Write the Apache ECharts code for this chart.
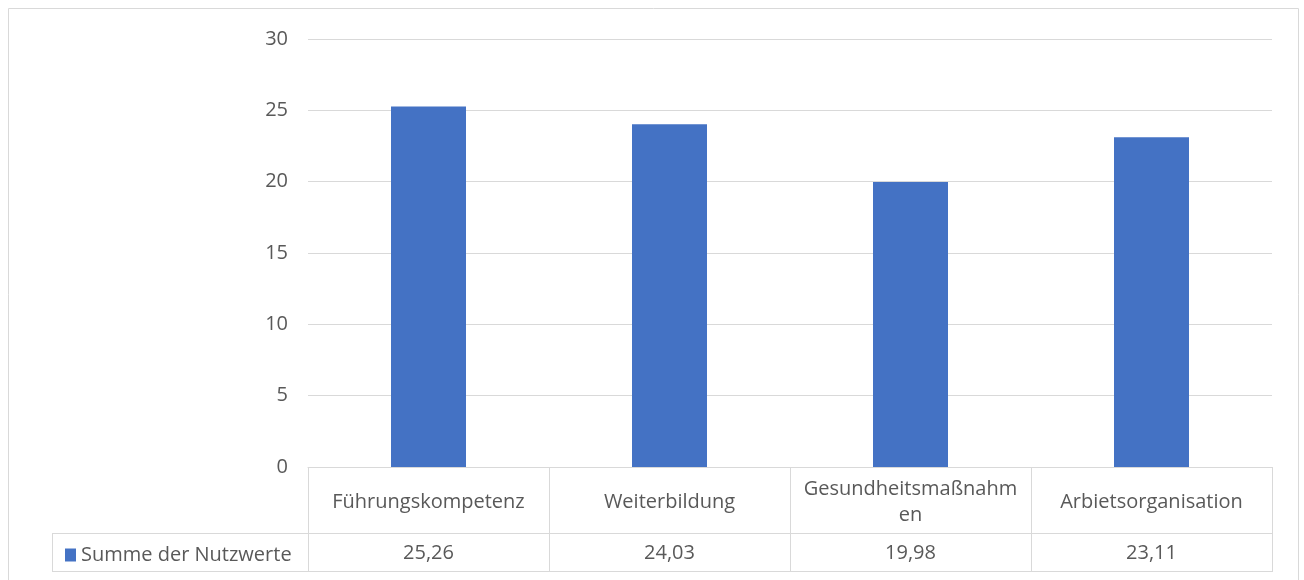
<!DOCTYPE html>
<html>
<head>
<meta charset="utf-8">
<script src="https://cdn.jsdelivr.net/npm/echarts@6/dist/echarts.min.js"></script>
<style>
  html, body { margin: 0; padding: 0; background: #fff; }
  #chart { width: 1304px; height: 580px; }
</style>
</head>
<body>
<div id="chart"></div>
<script>
// Daten
const categories = ['Führungskompetenz', 'Weiterbildung', 'Gesundheitsmaßnahmen', 'Arbietsorganisation'];
const values = [25.26, 24.03, 19.98, 23.11];
const seriesName = 'Summe der Nutzwerte';
const yTicks = [0, 5, 10, 15, 20, 25, 30];

const textColor = '#595959';
const lineColor = '#d9d9d9';
const font = 'Open Sans';
const fontSize = 20;

const chart = echarts.init(document.getElementById('chart'), null, { renderer: 'canvas' });

// Excel bricht den langen Namen um (passt nicht in die Zelle)
function wrapLabel(s) {
    return s.length > 19 ? s.slice(0, 18) + '\n' + s.slice(18) : s;
}

const option = {
    animation: false,
    textStyle: { fontFamily: font },
    grid: { left: 308, right: 32, top: 39, bottom: 113 },
    legend: {
        data: [seriesName],
        left: 60,
        top: 540,
        icon: 'rect',
        itemWidth: 11,
        itemHeight: 13,
        itemGap: 6,
        textStyle: { color: textColor, fontSize: fontSize, fontFamily: font }
    },
    xAxis: [
        {
            type: 'category',
            data: categories,
            axisLine: { lineStyle: { color: lineColor } },
            axisTick: { show: true, length: 105, interval: 0, lineStyle: { color: lineColor } },
            axisLabel: {
                interval: 0,
                margin: 35,
                verticalAlign: 'middle',
                color: textColor,
                fontSize: fontSize,
                lineHeight: 26,
                formatter: wrapLabel
            }
        },
        {
            type: 'category',
            position: 'bottom',
            data: categories,
            axisLine: { show: false },
            axisTick: { show: false },
            axisLabel: {
                interval: 0,
                margin: 86,
                verticalAlign: 'middle',
                color: textColor,
                fontSize: fontSize,
                formatter: (v, i) => values[i].toFixed(2).replace('.', ',')
            }
        }
    ],
    yAxis: {
        type: 'value',
        min: yTicks[0],
        max: yTicks[yTicks.length - 1],
        interval: 5,
        axisLine: { show: false },
        axisTick: { show: false },
        axisLabel: { margin: 20, color: textColor, fontSize: fontSize },
        splitLine: { lineStyle: { color: lineColor } }
    },
    series: [
        {
            name: seriesName,
            type: 'bar',
            data: values,
            barWidth: 75,
            itemStyle: { color: '#4472c4' }
        }
    ],
    graphic: [
        // Rahmen des Diagramms
        { type: 'rect', shape: { x: 8.5, y: 8.5, width: 1290, height: 600 }, style: { fill: null, stroke: lineColor, lineWidth: 1 } },
        // Datentabelle: Zeilenlinien und linke Zelle
        { type: 'line', shape: { x1: 52, y1: 533.5, x2: 1272, y2: 533.5 }, style: { stroke: lineColor, lineWidth: 1 } },
        { type: 'line', shape: { x1: 52, y1: 571.5, x2: 1272, y2: 571.5 }, style: { stroke: lineColor, lineWidth: 1 } },
        { type: 'line', shape: { x1: 52.5, y1: 533, x2: 52.5, y2: 572 }, style: { stroke: lineColor, lineWidth: 1 } }
    ]
};

chart.setOption(option);
</script>
</body>
</html>
